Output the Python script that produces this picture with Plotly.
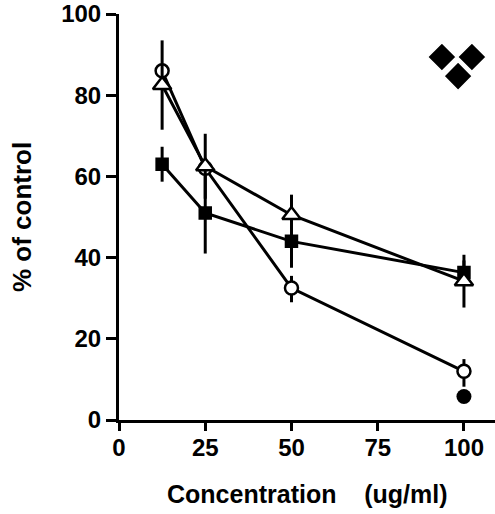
import plotly.graph_objects as go

# Data
conc = [12.5, 25, 50, 100]
circle_y = [86, 62, 32.5, 12]
circle_err_plus = [0, 0, 3, 3]
circle_err_minus = [0, 0, 3.5, 3.8]
triangle_y = [82.5, 62.5, 50.5, 34.2]
triangle_err = [11, 8, 5, 6.5]
square_y = [63, 51, 44, 36.3]
square_err = [4.3, 10, 6.5, 3]
filled_x = [100]
filled_y = [5.8]
diamond_x = [93.6, 102.3, 98.3]
diamond_y = [89.4, 89.4, 84.7]
x_ticks = [0, 25, 50, 75, 100]
y_ticks = [0, 20, 40, 60, 80, 100]

FONT = "Liberation Sans, Arial, Helvetica, sans-serif"

fig = go.Figure()

def add_series(y, eplus, eminus, symbol, size, fill):
    fig.add_trace(go.Scatter(
        x=conc, y=y, mode="lines+markers",
        line=dict(color="black", width=3),
        marker=dict(symbol=symbol, size=size, color=fill,
                    line=dict(color="black", width=2.5)),
        error_y=dict(type="data", symmetric=False, array=eplus, arrayminus=eminus,
                     color="black", thickness=3, width=0),
        cliponaxis=False, showlegend=False,
    ))

add_series(square_y, square_err, square_err, "square", 11, "black")
add_series(circle_y, circle_err_plus, circle_err_minus, "circle", 13, "white")
add_series(triangle_y, triangle_err, triangle_err, "triangle-up", 16, "white")

fig.add_trace(go.Scatter(
    x=filled_x, y=filled_y, mode="markers",
    marker=dict(symbol="circle", size=15, color="black"),
    cliponaxis=False, showlegend=False,
))
fig.add_trace(go.Scatter(
    x=diamond_x, y=diamond_y, mode="markers",
    marker=dict(symbol="diamond", size=22, color="black", line=dict(color="white", width=1.5)),
    cliponaxis=False, showlegend=False,
))

fig.update_layout(
    width=495, height=514,
    margin=dict(l=119, r=0, t=14, b=94),
    paper_bgcolor="white", plot_bgcolor="white",
    font=dict(family=FONT, size=24, color="black"),
    xaxis=dict(range=[0, 109], tickvals=x_ticks, ticks="outside", ticklen=8,
               tickwidth=3, tickcolor="black", showline=True, linewidth=3,
               linecolor="black", showgrid=False, zeroline=False,
               tickfont=dict(family=FONT, size=24, weight="bold"),
               ticklabelstandoff=-4, automargin=False),
    yaxis=dict(range=[0, 100], tickvals=y_ticks, ticks="outside", ticklen=10,
               tickwidth=3, tickcolor="black", showline=True, linewidth=3,
               linecolor="black", showgrid=False, zeroline=False,
               tickfont=dict(family=FONT, size=24, weight="bold"),
               ticklabelstandoff=0, automargin=False),
    annotations=[
        dict(text="Concentration\u00a0\u00a0\u00a0\u00a0(ug/ml)", xref="paper", yref="paper",
             x=0.5, y=0, yshift=-74, xanchor="center", yanchor="middle",
             showarrow=False, font=dict(family=FONT, size=25, weight="bold")),
        dict(text="% of control", xref="paper", yref="paper",
             x=0, y=0.5, xshift=-97, xanchor="center", yanchor="middle",
             textangle=-90, showarrow=False,
             font=dict(family=FONT, size=26, weight="bold")),
    ],
)

fig.write_html("out.html", config={"displayModeBar": False},
               post_script="document.body.style.margin='0';document.body.style.overflow='hidden';")
